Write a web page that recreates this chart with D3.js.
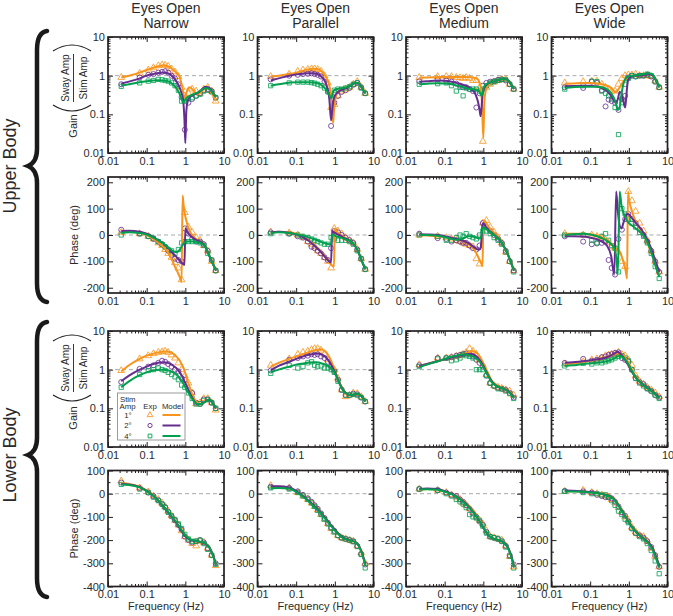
<!DOCTYPE html>
<html><head><meta charset="utf-8">
<script src="https://cdn.jsdelivr.net/npm/d3@7"></script>
<style>
body{margin:0;background:#fff}
svg{display:block}
text{font-family:Arial,"Liberation Sans",Helvetica,sans-serif;fill:#2a2a2a}
</style>
</head><body>
<svg id="chart" width="673" height="616"></svg>
<script>
// ---------- axes / categories ----------
const FREQ_MODEL = [0.022,0.035,0.066,0.1,0.15,0.2,0.27,0.35,0.42,0.47,0.52,0.58,0.65,0.72,0.8,0.85,0.9,0.95,1.0,1.06,1.15,1.3,1.6,2.0,2.6,3.3,4.2,5.2,6.2];
const FREQ_EXP = [0.022,0.066,0.11,0.15,0.2,0.25,0.3,0.36,0.44,0.54,0.66,0.8,0.97,1.2,1.5,1.9,2.4,3.0,3.8,4.8,6.1];
const COLUMNS = ["Narrow","Parallel","Medium","Wide"];
const STIM_AMPS = ["1°","2°","4°"];
const COLORS = ["#F7941D","#662D91","#00A04F"];
const FREQ_TICKS = [0.01,0.1,1,10];
const GAIN_TICKS = [0.01,0.1,1,10];
const PHASE_U_TICKS = [-200,-100,0,100,200];
const PHASE_L_TICKS = [-400,-300,-200,-100,0,100];

// ---------- Upper body gain ----------
const UGN_m1=[0.9,1.0,1.2,1.4,1.6,1.75,1.85,1.75,1.6,1.45,1.35,1.2,1.05,0.9,0.6,0.45,0.33,0.27,0.28,0.35,0.45,0.5,0.42,0.33,0.38,0.5,0.45,0.3,0.22];
const UGN_m2=[0.62,0.7,0.85,1.0,1.1,1.18,1.2,1.15,1.05,0.95,0.85,0.72,0.6,0.48,0.35,0.28,0.18,0.07,0.018,0.12,0.22,0.28,0.32,0.35,0.42,0.52,0.48,0.36,0.28];
const UGN_m4=[0.55,0.6,0.68,0.72,0.75,0.76,0.75,0.72,0.66,0.6,0.55,0.48,0.4,0.33,0.25,0.21,0.2,0.22,0.24,0.26,0.28,0.3,0.33,0.36,0.42,0.48,0.45,0.35,0.28];
const UGN_e1=[0.9,1.15,1.4,1.6,1.8,1.9,1.85,1.75,1.5,1.25,0.95,0.5,0.3,0.35,0.45,0.4,0.35,0.45,0.5,0.4,0.22];
const UGN_e2=[0.6,0.9,1.05,1.1,1.2,1.25,1.3,1.2,1.0,0.85,0.6,0.28,0.04,0.2,0.25,0.3,0.35,0.42,0.45,0.4,0.27];
const UGN_e4=[0.53,0.65,0.72,0.75,0.8,0.78,0.75,0.72,0.65,0.55,0.42,0.22,0.22,0.25,0.27,0.3,0.33,0.4,0.42,0.38,0.27];

const UGP_m1=[0.95,1.0,1.1,1.2,1.35,1.45,1.5,1.48,1.38,1.25,1.1,0.95,0.75,0.55,0.3,0.14,0.06,0.12,0.2,0.28,0.35,0.42,0.47,0.5,0.56,0.65,0.65,0.45,0.35];
const UGP_m2=[0.75,0.85,1.0,1.08,1.12,1.15,1.15,1.1,1.0,0.9,0.8,0.65,0.45,0.25,0.07,0.12,0.2,0.26,0.3,0.33,0.36,0.4,0.44,0.48,0.55,0.65,0.63,0.45,0.35];
const UGP_m4=[0.55,0.6,0.66,0.68,0.68,0.68,0.67,0.64,0.6,0.55,0.5,0.45,0.38,0.32,0.26,0.3,0.38,0.42,0.43,0.44,0.45,0.46,0.48,0.5,0.56,0.66,0.63,0.45,0.35];
const UGP_e1=[0.95,1.1,1.3,1.4,1.45,1.5,1.5,1.45,1.3,1.0,0.65,0.15,0.18,0.3,0.4,0.45,0.5,0.6,0.7,0.5,0.35];
const UGP_e2=[0.8,1.0,1.05,1.1,1.12,1.15,1.1,1.05,0.95,0.7,0.4,0.05,0.2,0.3,0.38,0.42,0.48,0.58,0.65,0.5,0.35];
const UGP_e4=[0.55,0.65,0.68,0.68,0.68,0.66,0.64,0.6,0.55,0.48,0.38,0.3,0.42,0.45,0.45,0.48,0.52,0.6,0.65,0.48,0.35];

const UGM_m1=[0.88,0.9,0.92,0.93,0.93,0.93,0.93,0.92,0.92,0.91,0.9,0.88,0.85,0.8,0.65,0.5,0.3,0.08,0.025,0.2,0.4,0.55,0.65,0.72,0.78,0.82,0.78,0.6,0.45];
const UGM_m2=[0.7,0.72,0.75,0.74,0.7,0.65,0.6,0.55,0.5,0.46,0.42,0.38,0.3,0.22,0.13,0.09,0.15,0.3,0.4,0.48,0.55,0.62,0.68,0.72,0.78,0.82,0.78,0.6,0.45];
const UGM_m4=[0.6,0.62,0.64,0.63,0.6,0.56,0.52,0.48,0.46,0.45,0.45,0.44,0.43,0.42,0.38,0.33,0.3,0.35,0.45,0.52,0.58,0.63,0.68,0.72,0.78,0.82,0.78,0.6,0.45];
const UGM_e1=[0.9,0.95,0.95,0.95,0.9,0.88,0.85,0.9,0.85,0.75,0.75,0.5,0.02,0.5,0.6,0.68,0.75,0.8,0.8,0.6,0.45];
const UGM_e2=[0.72,0.8,0.75,0.7,0.62,0.55,0.5,0.5,0.45,0.4,0.15,0.35,0.55,0.65,0.7,0.72,0.78,0.8,0.75,0.6,0.45];
const UGM_e4=[0.6,0.62,0.65,0.55,0.4,0.5,0.3,0.48,0.45,0.45,0.45,0.4,0.45,0.55,0.65,0.7,0.75,0.8,0.78,0.6,0.45];

const UGW_m1=[0.62,0.63,0.65,0.65,0.63,0.6,0.55,0.48,0.4,0.38,0.42,0.5,0.6,0.7,0.78,0.82,0.86,0.9,0.93,0.95,0.98,1.0,1.0,1.0,1.02,1.08,1.0,0.7,0.5];
const UGW_m2=[0.53,0.54,0.55,0.55,0.52,0.48,0.4,0.3,0.22,0.2,0.25,0.38,0.35,0.22,0.15,0.25,0.5,0.75,0.85,0.9,0.95,0.98,1.0,1.0,1.02,1.08,1.0,0.7,0.5];
const UGW_m4=[0.48,0.5,0.52,0.52,0.52,0.5,0.45,0.35,0.25,0.18,0.13,0.15,0.35,0.6,0.8,0.88,0.92,0.95,0.97,0.98,1.0,1.0,1.02,1.05,1.1,1.15,1.05,0.72,0.5];
const UGW_e1=[0.65,0.7,0.72,0.72,0.6,0.5,0.45,0.4,0.4,0.6,0.85,1.0,1.05,1.05,1.1,1.0,1.0,1.0,0.95,0.75,0.5];
const UGW_e2=[0.5,0.48,0.7,0.65,0.42,0.16,0.24,0.22,0.2,0.13,0.25,0.3,0.9,1.0,0.95,1.0,1.0,1.05,0.95,0.7,0.5];
const UGW_e4=[0.45,0.55,0.72,0.7,0.4,0.35,0.3,0.25,0.15,0.03,0.2,0.6,0.85,1.0,0.95,1.0,1.0,1.1,1.0,0.7,0.5];

// ---------- Upper body phase ----------
const UPN_m1=[10,12,8,0,-15,-28,-45,-65,-85,-100,-115,-130,-145,-160,-178,150,115,90,70,55,35,15,-5,-18,-28,-45,-80,-110,-135];
const UPN_m2=[15,16,12,5,-8,-20,-33,-48,-60,-68,-75,-82,-90,-97,-105,-108,-112,-114,25,20,10,0,-12,-20,-28,-45,-80,-110,-135];
const UPN_m4=[8,10,8,2,-10,-20,-32,-45,-55,-60,-63,-65,-62,-55,-45,-38,-32,-28,-26,-25,-25,-25,-25,-27,-32,-45,-80,-110,-135];
const UPN_e1=[10,5,-5,-15,-30,-40,-55,-70,-85,-105,-125,-170,85,30,10,-10,-20,-40,-60,-100,-135];
const UPN_e2=[20,5,-5,-15,-25,-35,-45,-60,-75,-90,-95,-100,25,5,-15,-25,-25,-35,-60,-95,-135];
const UPN_e4=[0,5,-5,-12,-25,-35,-45,-55,-60,-70,-55,-30,-25,-25,-25,-25,-30,-40,-70,-95,-135];

const UPP_m1=[10,12,10,5,-5,-18,-33,-48,-60,-68,-76,-85,-95,-105,-112,-116,-118,-120,25,20,12,5,-5,-15,-25,-40,-70,-105,-130];
const UPP_m2=[10,12,8,2,-8,-20,-35,-50,-62,-70,-78,-86,-94,-100,-104,15,12,10,8,6,3,0,-8,-15,-25,-40,-70,-105,-130];
const UPP_m4=[8,10,8,3,-3,-8,-14,-20,-25,-28,-30,-32,-34,-35,-32,0,2,0,-2,-4,-6,-8,-12,-18,-25,-40,-70,-105,-130];
const UPP_e1=[12,8,0,-10,-25,-35,-45,-60,-70,-85,-100,-125,25,15,5,-10,-20,-30,-55,-90,-130];
const UPP_e2=[10,5,-5,-10,-25,-45,-50,-60,-70,-85,-95,-50,15,10,0,-10,-20,-30,-55,-90,-130];
const UPP_e4=[5,5,0,-5,-10,-15,-20,-25,-30,-35,-35,-10,-15,-20,-20,-20,-25,-35,-60,-90,-130];

const UPM_m1=[0,-2,-5,-8,-12,-17,-22,-28,-34,-40,-47,-56,-68,-80,-95,-103,-110,-118,40,55,50,35,20,5,-15,-40,-70,-105,-135];
const UPM_m2=[3,2,0,-5,-10,-15,-20,-26,-32,-37,-42,-47,-52,-55,-55,-50,-10,40,45,40,32,22,10,-2,-18,-40,-70,-105,-135];
const UPM_m4=[0,0,-3,-8,-14,-18,-15,-8,-5,-5,-6,-8,-10,-12,-13,-10,5,22,30,28,24,18,8,-3,-18,-40,-70,-105,-135];
const UPM_e1=[0,-5,-10,-15,-20,-25,-30,-35,-40,-45,-90,-110,45,55,30,10,-10,-30,-65,-100,-135];
const UPM_e2=[5,-12,-15,-25,-20,-25,-30,-30,-40,-50,-55,-40,45,30,15,0,-15,-30,-60,-100,-135];
const UPM_e4=[0,-5,-20,-20,-10,0,-5,5,-5,-10,-15,0,15,15,5,-10,-20,-35,-65,-100,-140];

const UPW_m1=[5,5,5,3,-2,-8,-18,-32,-45,-52,-58,-65,-80,-100,-125,-145,-165,165,140,120,100,75,45,20,-10,-45,-85,-120,-145];
const UPW_m2=[-5,-5,-6,-10,-16,-25,-40,-80,-150,165,90,35,25,45,65,75,80,80,78,74,68,58,42,25,0,-30,-70,-110,-140];
const UPW_m4=[0,3,5,2,-5,-12,-22,-35,-50,-80,-145,165,110,85,70,62,55,50,45,42,38,32,22,10,-10,-40,-85,-130,-160];
const UPW_e1=[5,0,0,-5,-10,-20,-30,-45,-50,-65,-100,-120,165,130,90,45,15,-20,-60,-100,-140];
const UPW_e2=[-5,-25,-35,-32,-30,-25,-95,-125,-150,-15,20,60,80,60,45,20,0,-25,-60,-100,-140];
const UPW_e4=[0,0,-20,-30,-5,5,-20,-40,-50,-140,100,80,60,45,30,10,-5,-30,-70,-120,-165];

// ---------- Lower body gain ----------
const LGN_m1=[0.9,1.3,1.9,2.3,2.6,2.8,2.95,2.95,2.8,2.65,2.45,2.2,1.95,1.7,1.4,1.25,1.1,0.95,0.8,0.65,0.5,0.35,0.2,0.14,0.13,0.15,0.17,0.13,0.1];
const LGN_m2=[0.5,0.7,1.0,1.2,1.4,1.5,1.55,1.5,1.4,1.3,1.2,1.1,0.98,0.85,0.72,0.65,0.58,0.5,0.45,0.4,0.33,0.25,0.17,0.13,0.13,0.15,0.17,0.13,0.1];
const LGN_m4=[0.35,0.5,0.72,0.85,0.95,1.0,1.0,0.97,0.92,0.87,0.82,0.76,0.68,0.6,0.52,0.47,0.43,0.39,0.35,0.31,0.27,0.22,0.16,0.13,0.13,0.15,0.17,0.13,0.1];
const LGN_e1=[0.95,1.9,2.3,2.6,2.8,2.9,3.0,2.8,2.4,2.0,1.5,1.0,0.7,0.45,0.25,0.13,0.14,0.18,0.18,0.14,0.09];
const LGN_e2=[0.48,1.05,1.2,1.3,1.5,1.7,1.6,1.4,1.2,1.0,0.9,0.6,0.55,0.3,0.25,0.14,0.13,0.17,0.17,0.14,0.1];
const LGN_e4=[0.35,0.75,0.95,1.0,1.1,1.0,0.95,0.85,0.75,0.65,0.55,0.4,0.35,0.25,0.18,0.13,0.13,0.16,0.17,0.14,0.1];

const LGP_m1=[1.2,1.5,1.9,2.2,2.5,2.8,3.1,3.3,3.35,3.3,3.15,2.9,2.5,2.1,1.7,1.45,1.25,1.08,0.95,0.82,0.65,0.48,0.32,0.24,0.22,0.23,0.23,0.19,0.15];
const LGP_m2=[0.95,1.25,1.6,1.9,2.2,2.4,2.55,2.6,2.55,2.45,2.3,2.1,1.85,1.6,1.35,1.2,1.08,0.97,0.87,0.77,0.62,0.46,0.31,0.24,0.22,0.23,0.23,0.19,0.15];
const LGP_m4=[0.85,1.0,1.2,1.35,1.45,1.52,1.55,1.55,1.5,1.45,1.4,1.35,1.28,1.2,1.1,1.02,0.95,0.88,0.8,0.72,0.6,0.45,0.3,0.24,0.22,0.23,0.23,0.19,0.15];
const LGP_e1=[1.3,1.9,2.5,2.8,3.0,3.3,3.5,3.5,3.2,2.5,1.8,1.3,1.0,0.6,0.3,0.2,0.22,0.25,0.24,0.2,0.15];
const LGP_e2=[0.95,1.8,2.0,2.2,2.3,2.5,2.4,2.5,2.2,2.0,1.6,1.2,0.9,0.55,0.3,0.22,0.22,0.24,0.23,0.19,0.15];
const LGP_e4=[0.8,1.3,1.1,1.2,1.5,1.6,1.3,1.2,1.25,1.1,1.1,1.0,0.85,0.5,0.3,0.22,0.22,0.23,0.22,0.19,0.15];

const LGM_m1=[1.25,1.4,1.65,1.85,2.05,2.2,2.4,2.65,2.85,2.95,3.0,2.95,2.8,2.55,2.2,2.0,1.8,1.6,1.45,1.3,1.1,0.85,0.55,0.42,0.36,0.33,0.3,0.25,0.2];
const LGM_m2=[1.25,1.4,1.65,1.85,2.05,2.2,2.35,2.5,2.55,2.55,2.5,2.4,2.25,2.05,1.8,1.65,1.5,1.38,1.25,1.12,0.95,0.75,0.52,0.4,0.35,0.32,0.29,0.24,0.19];
const LGM_m4=[1.15,1.35,1.65,1.9,2.15,2.3,2.45,2.45,2.4,2.3,2.2,2.1,1.95,1.8,1.62,1.5,1.38,1.26,1.15,1.05,0.9,0.72,0.5,0.4,0.35,0.32,0.28,0.23,0.18];
const LGM_e1=[1.35,2.0,2.0,2.1,2.2,2.3,2.5,2.8,3.5,3.0,2.5,1.8,1.3,0.75,0.45,0.38,0.35,0.33,0.3,0.28,0.22];
const LGM_e2=[1.3,2.0,2.0,2.1,2.3,2.4,2.5,2.6,2.5,2.2,1.8,1.5,1.2,0.7,0.45,0.38,0.34,0.32,0.3,0.25,0.19];
const LGM_e4=[1.2,1.9,2.0,1.7,1.8,2.0,2.5,2.3,2.2,2.0,1.0,1.0,1.0,0.7,0.45,0.38,0.32,0.32,0.28,0.24,0.18];

const LGW_m1=[1.4,1.45,1.6,1.7,1.85,2.0,2.15,2.3,2.45,2.55,2.6,2.6,2.5,2.35,2.1,1.9,1.75,1.6,1.45,1.3,1.1,0.88,0.62,0.48,0.38,0.32,0.27,0.22,0.19];
const LGW_m2=[1.5,1.55,1.65,1.75,1.85,1.95,2.1,2.35,2.6,2.8,2.9,2.7,2.4,2.1,1.8,1.62,1.48,1.35,1.22,1.1,0.95,0.78,0.58,0.47,0.38,0.32,0.27,0.22,0.19];
const LGW_m4=[1.25,1.3,1.4,1.45,1.5,1.55,1.65,1.8,1.95,2.1,2.2,2.25,2.2,2.05,1.85,1.7,1.55,1.42,1.3,1.17,1.0,0.8,0.58,0.46,0.37,0.31,0.26,0.21,0.18];
const LGW_e1=[1.4,1.6,1.8,1.9,2.0,2.3,2.4,2.5,2.6,2.8,2.5,2.3,1.8,1.3,0.7,0.5,0.42,0.35,0.3,0.25,0.2];
const LGW_e2=[1.5,1.9,1.7,1.8,2.1,2.2,2.4,2.5,2.7,2.8,2.0,1.8,1.6,1.0,0.6,0.48,0.42,0.33,0.28,0.22,0.19];
const LGW_e4=[1.25,1.45,1.4,1.5,1.5,1.6,1.7,1.8,2.0,2.2,2.3,2.0,1.7,1.0,0.6,0.45,0.38,0.32,0.28,0.22,0.18];

// ---------- Lower body phase ----------
const LPN_m1=[45,42,30,14,-8,-28,-53,-77,-94,-104,-114,-124,-137,-149,-161,-167,-173,-179,-183,-187,-192,-197,-202,-205,-209,-215,-232,-265,-305];
const LPN_m2=[42,40,28,12,-10,-30,-55,-78,-95,-105,-115,-125,-138,-150,-162,-168,-174,-180,-184,-188,-193,-198,-203,-205,-209,-215,-232,-265,-305];
const LPN_m4=[40,38,27,11,-10,-30,-54,-76,-92,-102,-112,-122,-134,-146,-157,-163,-169,-175,-180,-185,-190,-196,-201,-204,-208,-214,-232,-268,-310];
const LPN_e1=[55,25,8,-10,-25,-40,-55,-75,-95,-115,-135,-160,-185,-200,-215,-225,-205,-210,-235,-265,-310];
const LPN_e2=[48,25,5,-10,-28,-45,-58,-78,-98,-115,-135,-155,-185,-200,-210,-205,-200,-210,-235,-265,-300];
const LPN_e4=[40,20,5,-15,-30,-45,-60,-80,-95,-112,-130,-150,-175,-195,-205,-205,-200,-215,-240,-265,-305];

const LPP_m1=[30,30,25,10,-12,-28,-47,-65,-80,-90,-99,-108,-117,-127,-136,-141,-146,-151,-155,-160,-167,-176,-188,-196,-202,-207,-225,-262,-305];
const LPP_m2=[32,32,27,12,-10,-27,-46,-64,-79,-89,-98,-107,-117,-127,-136,-141,-146,-151,-155,-160,-167,-176,-188,-196,-202,-207,-225,-262,-305];
const LPP_m4=[24,25,22,8,-13,-30,-50,-68,-83,-93,-102,-111,-121,-131,-140,-145,-150,-155,-159,-163,-170,-178,-190,-197,-203,-208,-226,-265,-312];
const LPP_e1=[35,25,5,-10,-25,-40,-55,-70,-90,-110,-130,-150,-165,-180,-190,-195,-200,-205,-225,-255,-300];
const LPP_e2=[30,25,10,-5,-20,-35,-50,-65,-85,-105,-125,-145,-160,-180,-190,-195,-200,-205,-225,-260,-305];
const LPP_e4=[25,20,5,-10,-25,-40,-55,-72,-90,-110,-130,-148,-165,-180,-190,-195,-200,-207,-228,-262,-320];

const LPM_m1=[18,20,18,10,0,-10,-24,-40,-53,-62,-71,-80,-92,-104,-117,-124,-131,-138,-145,-152,-161,-173,-188,-195,-200,-208,-228,-265,-315];
const LPM_m2=[20,22,20,11,0,-11,-26,-42,-56,-65,-74,-84,-95,-107,-119,-126,-133,-140,-147,-154,-163,-175,-189,-196,-201,-209,-228,-265,-312];
const LPM_m4=[18,19,17,9,-2,-13,-28,-45,-58,-67,-76,-85,-96,-107,-119,-126,-133,-140,-146,-153,-162,-174,-189,-196,-201,-209,-230,-268,-318];
const LPM_e1=[20,15,5,-5,-15,-25,-40,-50,-65,-80,-100,-115,-130,-160,-185,-190,-195,-200,-225,-270,-315];
const LPM_e2=[20,15,5,-5,-10,-25,-35,-50,-65,-85,-100,-120,-135,-165,-185,-190,-195,-205,-225,-265,-305];
const LPM_e4=[20,15,0,-10,-25,-35,-45,-60,-90,-100,-105,-115,-140,-170,-185,-190,-195,-205,-230,-270,-320];

const LPW_m1=[12,11,9,6,3,0,-5,-12,-22,-32,-43,-55,-68,-80,-94,-101,-108,-115,-120,-127,-136,-148,-165,-180,-195,-212,-240,-280,-315];
const LPW_m2=[14,13,10,7,3,-1,-6,-13,-24,-34,-45,-57,-70,-82,-96,-103,-110,-117,-122,-129,-138,-150,-167,-182,-197,-212,-238,-276,-312];
const LPW_m4=[10,10,8,5,2,-1,-7,-15,-26,-36,-47,-59,-72,-84,-97,-104,-111,-118,-124,-131,-140,-152,-169,-184,-200,-216,-245,-285,-320];
const LPW_e1=[10,15,5,0,-5,-10,-15,-25,-40,-60,-80,-100,-115,-145,-165,-180,-185,-205,-235,-270,-315];
const LPW_e2=[12,10,5,-5,-10,-15,-15,-20,-35,-55,-80,-95,-120,-150,-170,-180,-190,-205,-230,-265,-315];
const LPW_e4=[10,5,0,0,-5,-5,-15,-30,-50,-75,-90,-110,-125,-150,-170,-185,-195,-215,-245,-290,-345];

// ---------- panel table built from the arrays ----------
const ROWS = [
  {kind:"gain", top:37, panels:[
    [[UGN_m1,UGN_e1],[UGN_m2,UGN_e2],[UGN_m4,UGN_e4]],
    [[UGP_m1,UGP_e1],[UGP_m2,UGP_e2],[UGP_m4,UGP_e4]],
    [[UGM_m1,UGM_e1],[UGM_m2,UGM_e2],[UGM_m4,UGM_e4]],
    [[UGW_m1,UGW_e1],[UGW_m2,UGW_e2],[UGW_m4,UGW_e4]]]},
  {kind:"phaseU", top:177, panels:[
    [[UPN_m1,UPN_e1],[UPN_m2,UPN_e2],[UPN_m4,UPN_e4]],
    [[UPP_m1,UPP_e1],[UPP_m2,UPP_e2],[UPP_m4,UPP_e4]],
    [[UPM_m1,UPM_e1],[UPM_m2,UPM_e2],[UPM_m4,UPM_e4]],
    [[UPW_m1,UPW_e1],[UPW_m2,UPW_e2],[UPW_m4,UPW_e4]]]},
  {kind:"gain", top:331, panels:[
    [[LGN_m1,LGN_e1],[LGN_m2,LGN_e2],[LGN_m4,LGN_e4]],
    [[LGP_m1,LGP_e1],[LGP_m2,LGP_e2],[LGP_m4,LGP_e4]],
    [[LGM_m1,LGM_e1],[LGM_m2,LGM_e2],[LGM_m4,LGM_e4]],
    [[LGW_m1,LGW_e1],[LGW_m2,LGW_e2],[LGW_m4,LGW_e4]]]},
  {kind:"phaseL", top:470.5, panels:[
    [[LPN_m1,LPN_e1],[LPN_m2,LPN_e2],[LPN_m4,LPN_e4]],
    [[LPP_m1,LPP_e1],[LPP_m2,LPP_e2],[LPP_m4,LPP_e4]],
    [[LPM_m1,LPM_e1],[LPM_m2,LPM_e2],[LPM_m4,LPM_e4]],
    [[LPW_m1,LPW_e1],[LPW_m2,LPW_e2],[LPW_m4,LPW_e4]]]}
];
const COL_X = [108, 257.5, 406, 551.5];
const W = 116, H = 116;
const INK = "#231f20";
const TXT = "#2a2a2a";

const svg = d3.select("#chart");
const logMinor = [];
[0.01,0.1,1].forEach(b=>{for(let k=2;k<=9;k++) logMinor.push(+(b*k).toPrecision(3));});

const SYMS = [d3.symbolTriangle, d3.symbolCircle, d3.symbolSquare];
const SYM_SIZE = [20, 20, 18];

function drawPanel(px, py, kind, series, withLegend){
  const g = svg.append("g").attr("transform", `translate(${px},${py})`);
  const x = d3.scaleLog().domain([0.01,10]).range([0,W]);
  let y, yTicks, yMinor;
  if(kind==="gain"){ y=d3.scaleLog().domain([0.01,10]).range([H,0]); yTicks=GAIN_TICKS; yMinor=logMinor; }
  else if(kind==="phaseU"){ y=d3.scaleLinear().domain([-220,220]).range([H,0]); yTicks=PHASE_U_TICKS; yMinor=[-150,-50,50,150]; }
  else { y=d3.scaleLinear().domain([-400,100]).range([H,0]); yTicks=PHASE_L_TICKS; yMinor=[-350,-250,-150,-50,50]; }
  const ref = kind==="gain" ? 1 : 0;
  g.append("line").attr("x1",0).attr("x2",W).attr("y1",y(ref)).attr("y2",y(ref))
    .attr("stroke","#a7a9ac").attr("stroke-width",1).attr("stroke-dasharray","4,3");

  series.forEach((s,i)=>{
    g.append("g").selectAll("path").data(FREQ_EXP.map((f,j)=>[f,s[1][j]])).join("path")
      .attr("d", d3.symbol(SYMS[i], SYM_SIZE[i]))
      .attr("transform", d=>`translate(${x(d[0])},${y(d[1])})`)
      .attr("fill","none").attr("stroke",COLORS[i]).attr("stroke-width",0.9).attr("opacity",0.9);
  });
  const line = d3.line().x(d=>x(d[0])).y(d=>y(d[1])).curve(d3.curveMonotoneX);
  series.forEach((s,i)=>{
    g.append("path").datum(FREQ_MODEL.map((f,j)=>[f,s[0][j]]))
      .attr("d",line).attr("fill","none").attr("stroke",COLORS[i]).attr("stroke-width",2)
      .attr("stroke-linejoin","round");
  });

  if(withLegend) drawLegend(g);

  const style = a => { a.select(".domain").remove(); a.selectAll("line").attr("stroke",INK).attr("stroke-width",1);
    a.selectAll("text").attr("font-size",11).attr("font-family",null).attr("fill",TXT); };
  g.append("g").attr("transform",`translate(0,${H})`).call(d3.axisBottom(x).tickValues(FREQ_TICKS).tickFormat(d=>String(d)).tickSize(-5).tickPadding(4)).call(style);
  g.append("g").attr("transform",`translate(0,${H})`).call(d3.axisBottom(x).tickValues(logMinor).tickFormat("").tickSize(-2.5)).call(style);
  g.append("g").call(d3.axisTop(x).tickValues(FREQ_TICKS).tickFormat("").tickSize(-5)).call(style);
  g.append("g").call(d3.axisTop(x).tickValues(logMinor).tickFormat("").tickSize(-2.5)).call(style);
  g.append("g").call(d3.axisLeft(y).tickValues(yTicks).tickFormat(d=>String(d)).tickSize(-5).tickPadding(3)).call(style);
  g.append("g").call(d3.axisLeft(y).tickValues(yMinor).tickFormat("").tickSize(-2.5)).call(style);
  g.append("g").attr("transform",`translate(${W},0)`).call(d3.axisRight(y).tickValues(yTicks).tickFormat("").tickSize(-5)).call(style);
  g.append("g").attr("transform",`translate(${W},0)`).call(d3.axisRight(y).tickValues(yMinor).tickFormat("").tickSize(-2.5)).call(style);

  g.append("rect").attr("x",0).attr("y",0).attr("width",W).attr("height",H)
    .attr("fill","none").attr("stroke",INK).attr("stroke-width",1.7);
}

function drawLegend(g){
  const lg = g.append("g").attr("transform","translate(9.5,62)");
  lg.append("rect").attr("x",0).attr("y",0).attr("width",67.5).attr("height",47)
    .attr("fill","#fff").attr("stroke","#9a9a9a").attr("stroke-width",1);
  const fs = 7.8;
  lg.append("text").attr("x",2.5).attr("y",8.5).attr("font-size",fs).text("Stim");
  lg.append("text").attr("x",2).attr("y",16).attr("font-size",fs).text("Amp");
  lg.append("text").attr("x",32.5).attr("y",16).attr("font-size",fs).attr("text-anchor","middle").text("Exp");
  lg.append("text").attr("x",55).attr("y",16).attr("font-size",fs).attr("text-anchor","middle").text("Model");
  STIM_AMPS.forEach((s,i)=>{
    const cy = 22 + i*10.5;
    lg.append("text").attr("x",10.5).attr("y",cy+2.8).attr("font-size",fs).attr("text-anchor","middle").text(s);
    lg.append("path").attr("d",d3.symbol(SYMS[i],14)).attr("transform",`translate(32.5,${cy})`)
      .attr("fill","none").attr("stroke",COLORS[i]).attr("stroke-width",0.9);
    lg.append("line").attr("x1",45).attr("x2",63).attr("y1",cy).attr("y2",cy)
      .attr("stroke",COLORS[i]).attr("stroke-width",2);
  });
}

ROWS.forEach((row,ri)=>{
  row.panels.forEach((p,ci)=>{
    drawPanel(COL_X[ci], row.top, row.kind, p, ri===2 && ci===0);
  });
});

COLUMNS.forEach((c,ci)=>{
  const cx = COL_X[ci] + W/2;
  svg.append("text").attr("x",cx).attr("y",12.5).attr("text-anchor","middle").attr("font-size",14).text("Eyes Open");
  svg.append("text").attr("x",cx).attr("y",28).attr("text-anchor","middle").attr("font-size",14).text(c);
  svg.append("text").attr("x",cx).attr("y",610).attr("text-anchor","middle").attr("font-size",11).text("Frequency (Hz)");
});

[177, 470.5].forEach(t=>{
  svg.append("text").attr("transform",`translate(78,${t+H/2}) rotate(-90)`).attr("text-anchor","middle")
    .attr("font-size",11).text("Phase (deg)");
});

function gainLabel(t, off){
  const fc = t + 41 + off;
  const g = svg.append("g");
  g.append("text").attr("transform",`translate(77,${t+89+off*0.5}) rotate(-90)`).attr("text-anchor","middle").attr("font-size",11).text("Gain");
  g.append("text").attr("transform",`translate(69,${fc}) rotate(-90)`).attr("text-anchor","middle").attr("font-size",10).text("Sway Amp");
  g.append("text").attr("transform",`translate(87,${fc}) rotate(-90)`).attr("text-anchor","middle").attr("font-size",10).text("Stim Amp");
  g.append("line").attr("x1",73.5).attr("x2",73.5).attr("y1",fc-24).attr("y2",fc+24).attr("stroke",INK).attr("stroke-width",0.9);
  g.append("path").attr("d",`M53,${fc-27} Q72,${fc-39} 91,${fc-27}`).attr("fill","none").attr("stroke",INK).attr("stroke-width",1.1);
  g.append("path").attr("d",`M53,${fc+27} Q72,${fc+39} 91,${fc+27}`).attr("fill","none").attr("stroke",INK).attr("stroke-width",1.1);
}
gainLabel(37, 0);
gainLabel(331, -4);

function brace(top, mid, bot){
  const p = `M47,${top} C40,${top+1} 37,${top+7} 37,${top+19} L37,${mid-17} C37,${mid-7} 33,${mid-2} 28,${mid} C33,${mid+2} 37,${mid+7} 37,${mid+17} L37,${bot-19} C37,${bot-7} 40,${bot-1} 47,${bot}`;
  svg.append("path").attr("d",p).attr("fill","none").attr("stroke","#1a1a1a").attr("stroke-width",4.5).attr("stroke-linecap","round");
}
brace(31, 166, 302);
brace(322, 455, 597);
svg.append("text").attr("transform","translate(16,166) rotate(-90)").attr("text-anchor","middle").attr("font-size",18).text("Upper Body");
svg.append("text").attr("transform","translate(16,455) rotate(-90)").attr("text-anchor","middle").attr("font-size",18).text("Lower Body");
</script>
</body></html>
